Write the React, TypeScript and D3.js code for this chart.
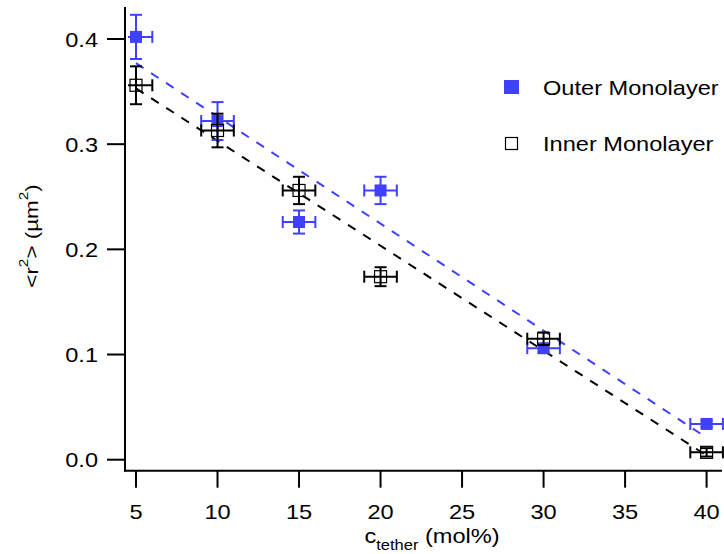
import React from "react";
import * as d3 from "d3";

const xValues = [5, 10, 15, 20, 30, 40];
const outerValues = [0.402, 0.322, 0.226, 0.256, 0.106, 0.034];
const outerErr = [0.021, 0.018, 0.011, 0.013, 0.004, 0.003];
const innerValues = [0.356, 0.313, 0.256, 0.174, 0.115, 0.007];
const innerErr = [0.018, 0.016, 0.013, 0.009, 0.006, 0.004];
const xErr = [1, 1, 1, 1, 1, 1];
const fitX = [5, 40];
const outerFit = [0.377, 0.021];
const innerFit = [0.353, 0.004];
const xTicks = [5, 10, 15, 20, 25, 30, 35, 40];
const yTicks = [0.0, 0.1, 0.2, 0.3, 0.4];
const seriesNames = ["Outer Monolayer", "Inner Monolayer"];

const BLUE = "#4040FF";
const FONT = "'Liberation Sans', Arial, Helvetica, sans-serif";
const SX = 1.18;

function T({ x, y, anchor = "start", size = 20, rot = 0, children }: any) {
  return (
    <text
      transform={`translate(${x},${y}) rotate(${rot}) scale(${SX},1)`}
      textAnchor={anchor}
      fontSize={size}
      fontFamily={FONT}
      fill="#000"
    >
      {children}
    </text>
  );
}

export default function App() {
  const x = d3.scaleLinear().domain([5, 40]).range([136, 706.6]);
  const y = d3.scaleLinear().domain([0, 0.4]).range([459.7, 39]);
  const axisLeft = 125;
  const axisBottom = 470.7;
  const cap = 6;

  const line = d3
    .line<[number, number]>()
    .x((d) => x(d[0]))
    .y((d) => y(d[1]));

  const errBars = (vals: number[], errs: number[], color: string) =>
    xValues.map((xv, i) => {
      const cx = x(xv);
      const cy = y(vals[i]);
      const x0 = x(xv - xErr[i]);
      const x1 = x(xv + xErr[i]);
      const y0 = y(vals[i] + errs[i]);
      const y1 = y(vals[i] - errs[i]);
      return (
        <g key={i} stroke={color} strokeWidth={2} fill="none">
          <line x1={x0} x2={x1} y1={cy} y2={cy} />
          <line x1={x0} x2={x0} y1={cy - cap} y2={cy + cap} />
          <line x1={x1} x2={x1} y1={cy - cap} y2={cy + cap} />
          <line x1={cx} x2={cx} y1={y0} y2={y1} />
          <line x1={cx - cap} x2={cx + cap} y1={y0} y2={y0} />
          <line x1={cx - cap} x2={cx + cap} y1={y1} y2={y1} />
        </g>
      );
    });

  return (
    <svg
      width={724}
      height={554}
      style={{ position: "absolute", left: 0, top: 0, display: "block" }}
    >
      <rect width={724} height={554} fill="#fff" />
      <defs>
        <clipPath id="plot">
          <rect x={128} y={5} width={596} height={466} />
        </clipPath>
      </defs>

      <g clipPath="url(#plot)">
        <path
          d={line(fitX.map((v, i) => [v, outerFit[i]]) as any) || ""}
          stroke={BLUE}
          strokeWidth={2}
          strokeDasharray="9,9"
          fill="none"
        />
        <path
          d={line(fitX.map((v, i) => [v, innerFit[i]]) as any) || ""}
          stroke="#000"
          strokeWidth={2}
          strokeDasharray="9,9"
          fill="none"
        />
        {errBars(outerValues, outerErr, BLUE)}
        {xValues.map((xv, i) => (
          <rect
            key={"o" + i}
            x={x(xv) - 6}
            y={y(outerValues[i]) - 6}
            width={12}
            height={12}
            fill={BLUE}
          />
        ))}
        {errBars(innerValues, innerErr, "#000")}
        {xValues.map((xv, i) => (
          <rect
            key={"in" + i}
            x={x(xv) - 6}
            y={y(innerValues[i]) - 6}
            width={12}
            height={12}
            fill="none"
            stroke="#000"
            strokeWidth={1.2}
          />
        ))}
      </g>

      {/* axes */}
      <line x1={axisLeft} x2={axisLeft} y1={7} y2={axisBottom + 1} stroke="#000" strokeWidth={2} />
      <line x1={axisLeft - 1} x2={722} y1={axisBottom} y2={axisBottom} stroke="#000" strokeWidth={2} />
      {yTicks.map((t) => (
        <g key={"yt" + t}>
          <line x1={axisLeft - 18} x2={axisLeft} y1={y(t)} y2={y(t)} stroke="#000" strokeWidth={2} />
          <T x={98} y={y(t) + 7.5} anchor="end" size={20}>
            {t.toFixed(1)}
          </T>
        </g>
      ))}
      {xTicks.map((t) => (
        <g key={"xt" + t}>
          <line x1={x(t)} x2={x(t)} y1={axisBottom} y2={axisBottom + 17} stroke="#000" strokeWidth={2} />
          <T x={x(t)} y={518.5} anchor="middle" size={20}>
            {String(t)}
          </T>
        </g>
      ))}

      {/* axis titles */}
      <T x={432} y={543} anchor="middle" size={20}>
        c
        <tspan fontSize={14} dy={7}>
          tether
        </tspan>
        <tspan dy={-7}> (mol%)</tspan>
      </T>
      <T x={38} y={236} anchor="middle" size={19} rot={-90}>
        {"<r"}
        <tspan fontSize={13} dy={-10}>
          2
        </tspan>
        <tspan dy={10}>{"> (µm"}</tspan>
        <tspan fontSize={13} dy={-10}>
          2
        </tspan>
        <tspan dy={10}>)</tspan>
      </T>

      {/* legend */}
      <rect x={504} y={80} width={15} height={14} fill={BLUE} />
      <T x={543} y={95} size={20}>
        {seriesNames[0]}
      </T>
      <rect x={505.5} y={137.5} width={12} height={12} fill="none" stroke="#000" strokeWidth={1.2} />
      <T x={543} y={150.5} size={20}>
        {seriesNames[1]}
      </T>
    </svg>
  );
}
